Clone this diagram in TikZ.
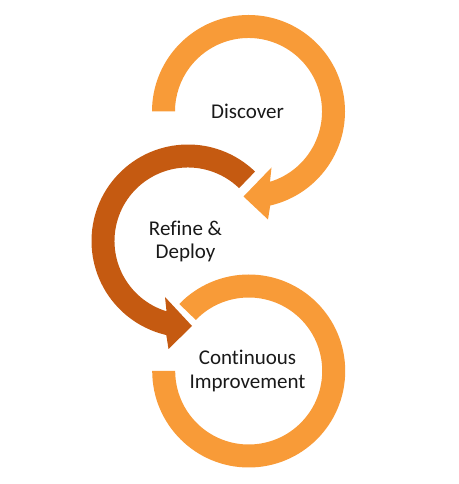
\documentclass[tikz,border=0pt]{standalone}
\usepackage{fontspec}
\setmainfont{Carlito}[Ligatures=NoCommon]
\usetikzlibrary{calc}
\definecolor{lightorange}{RGB}{248,155,56}
\definecolor{darkorange}{RGB}{197,90,17}
\tikzset{
  ringlight/.style={fill=lightorange, draw=none},
  ringdark/.style={fill=darkorange, draw=none},
  steplabel/.style={align=center, text=black!90, font=\fontsize{21}{23.3}\selectfont}
}

\begin{document}
\begin{tikzpicture}[x=1pt,y=1pt]
    \useasboundingbox (0,0) rectangle (458,484);
    \coordinate (C1) at (248.5,372.5);
    \coordinate (C2) at (188,243);
    \coordinate (C3) at (248.7,113);

    % Discover ring, arrow at lower left
    \fill[ringlight] ($(C1)+(180:96.5)$) arc (180:-77:96.5)
        -- ($(C1)+(19.5,-108)$) -- ($(C1)+(-5,-85)$) -- ($(C1)+(23,-56)$)
        -- ($(C1)+(-73:73.5)$) arc (-73:180:73.5) -- cycle;

    % Refine & Deploy ring, arrow at lower right
    \fill[ringdark] ($(C2)+(46:96.5)$) arc (46:257:96.5)
        -- ($(C2)+(-19.5,-108)$) -- ($(C2)+(4,-85)$) -- ($(C2)+(-23,-56)$)
        -- ($(C2)+(253:73.5)$) arc (253:46:73.5) -- cycle;

    % Continuous Improvement ring, open at upper left
    \fill[ringlight] ($(C3)+(180:96.5)$) arc (180:496:96.5)
        -- ($(C3)+(136:73.5)$) arc (136:-180:73.5) -- cycle;

    \node [steplabel] (discover) at (247.5,373) {Discover};
    \node [steplabel] (refine) at (185.5,242.5) {Refine \&\\Deploy};
    \node [steplabel] (improve) at (247.5,113) {Continuous\\Improvement};
\end{tikzpicture}
\end{document}
